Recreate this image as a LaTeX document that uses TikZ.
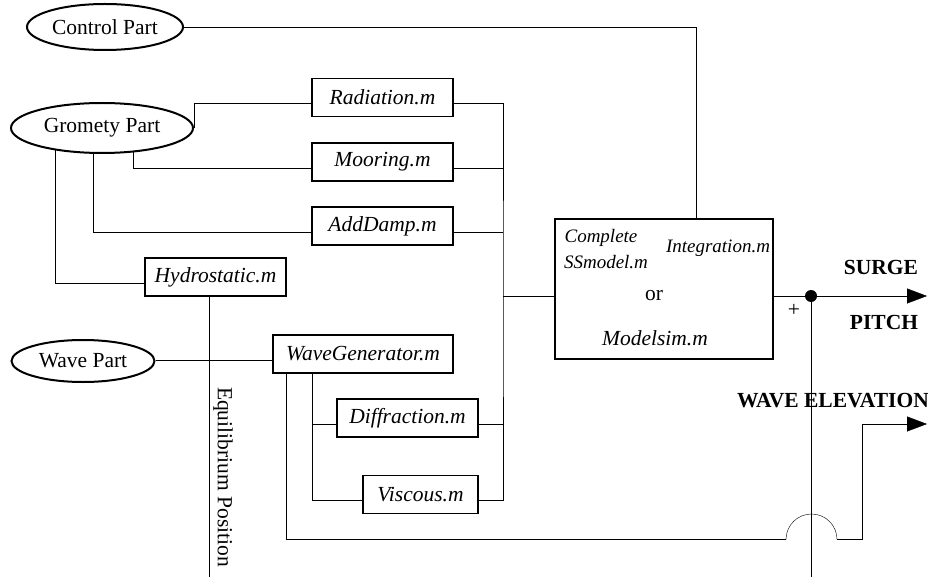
\documentclass[tikz,border=0pt]{standalone}
\usepackage{fontspec}
\setmainfont{Liberation Serif}
\usetikzlibrary{shapes.geometric,arrows.meta,backgrounds}

\tikzset{
  base/.style={font=\fontsize{21.5}{25}\selectfont},
  part/.style={base, ellipse, draw, line width=2pt, fill=white, inner sep=0pt},
  mfile/.style={base, draw, line width=1.5pt, fill=white, inner sep=0pt,
    font=\fontsize{21.5}{25}\selectfont\itshape, minimum height=38pt},
  wire/.style={line width=1.6pt, draw=black},
  headed/.style={-{Triangle[length=20pt,width=15pt]}},
  outlabel/.style={font=\fontsize{21.5}{25}\selectfont\bfseries, inner sep=0pt},
  boxtext/.style={font=\fontsize{19}{22}\selectfont\itshape, inner sep=0pt},
  jdot/.style={circle, fill=black, inner sep=0pt, minimum size=12pt},
}

\begin{document}
\begin{tikzpicture}[x=1pt,y=-1pt]
  \useasboundingbox (0,0) rectangle (928,577);

  % input parts
  \node[part, minimum width=156pt, minimum height=46pt] (ctrl) at (105,27) {Control Part};
  \node[part, minimum width=182pt, minimum height=50pt] (geo) at (102,128) {Gromety Part};
  \node[part, minimum width=143pt, minimum height=42pt] (wave) at (83,361) {Wave Part};

  % m-file blocks
  \node[mfile, minimum width=141pt] (rad) at (382.5,97.5) {Radiation.m};
  \node[mfile, minimum width=141pt] (moor) at (382.5,162) {Mooring.m};
  \node[mfile, minimum width=141pt] (adamp) at (382.5,226) {AddDamp.m};
  \node[mfile, minimum width=141pt] (hydro) at (215.5,277) {Hydrostatic.m};
  \node[mfile, minimum width=180pt] (wgen) at (363,354) {WaveGenerator.m};
  \node[mfile, minimum width=141pt] (diff) at (407.5,418) {Diffraction.m};
  \node[mfile, minimum width=115pt] (visc) at (420.5,494.5) {Viscous.m};

  % main simulation block
  \node[draw, line width=1.5pt, minimum width=218pt, minimum height=140pt, inner sep=0pt] (main) at (664,289) {};
  \node[boxtext] (tcomp) at (601,238) {Complete};
  \node[boxtext] (tss) at (606,262) {SSmodel.m};
  \node[boxtext] (tint) at (718,248) {Integration.m};
  \node[base, inner sep=0pt] (tor) at (654,296) {or};
  \node[base, inner sep=0pt, font=\fontsize{21.5}{25}\selectfont\itshape] (tms) at (655,338) {Modelsim.m};

  % connection points (wires sit slightly below the block centres)
  \coordinate (radL) at ([yshift=-6pt]rad.west);
  \coordinate (radR) at ([yshift=-6pt]rad.east);
  \coordinate (moorL) at ([yshift=-6pt]moor.west);
  \coordinate (moorR) at ([yshift=-6pt]moor.east);
  \coordinate (adL) at ([yshift=-6pt]adamp.west);
  \coordinate (adR) at ([yshift=-6pt]adamp.east);
  \coordinate (hyL) at ([yshift=-6pt]hydro.west);
  \coordinate (wgL) at ([yshift=-6pt]wgen.west);
  \coordinate (dfL) at ([yshift=-6pt]diff.west);
  \coordinate (dfR) at ([yshift=-6pt]diff.east);
  \coordinate (vsL) at ([yshift=-6pt]visc.west);
  \coordinate (vsR) at ([yshift=-6pt]visc.east);
  \coordinate (bx) at (503,296);
  \node[jdot] (jn) at (811,296) {};
  \coordinate (surgeEnd) at (927,296);
  \coordinate (jnEnd) at (811,577);
  \coordinate (eqEnd) at (209.5,577);
  \coordinate (wgDown) at (286.5,539.5);
  \coordinate (hopL) at (786,539.5);
  \coordinate (hopR) at (837,539.5);
  \coordinate (weBend) at (862.5,539.5);
  \coordinate (weUp) at (862.5,424);
  \coordinate (weEnd) at (927,424);

  \begin{scope}[on background layer, wire]
    % geometry part to its blocks
    \draw (geo.east) |- (radL);
    \draw ([xshift=31pt]geo.center) |- (moorL);
    \draw ([xshift=-9pt]geo.center) |- (adL);
    \draw ([xshift=-47pt]geo.center) |- (hyL);
    % wave part
    \draw (wgL -| wave.east) -- (wgL);
    \draw ([xshift=-51pt]wgen.south) |- (dfL);
    \draw ([xshift=-51pt]wgen.south) |- (vsL);
    % collecting bus into the main block
    \draw (radR) -| (bx) |- (vsR);
    \draw (moorR) -- (moorR -| bx);
    \draw (adR) -- (adR -| bx);
    \draw (dfR) -- (dfR -| bx);
    \draw (bx) -- (bx -| main.west);
    % control part
    \draw (ctrl.east) -| ([xshift=32pt]main.north);
    % equilibrium position
    \draw (eqEnd |- hydro.south) -- (eqEnd);
    % outputs
    \draw (bx -| main.east) -- (jn);
    \draw[headed] (jn) -- (surgeEnd);
    \draw (jn) -- (jnEnd);
    % wave elevation, hopping over the output line
    \draw (wgDown |- wgen.south) -- (wgDown) -- (hopL);
    \draw (hopL) arc[start angle=180, end angle=0, radius=25.5pt];
    \draw (hopR) -- (weBend) -- (weUp);
    \draw[headed] (weUp) -- (weEnd);
  \end{scope}

  % labels
  \node[base, rotate=-90, inner sep=0pt] (eqlab) at (223,477) {Equilibrium Position};
  \node[outlabel] (surge) at (881,267) {SURGE};
  \node[outlabel] (pitch) at (884,322) {PITCH};
  \node[base, inner sep=0pt] (plus) at (794,310) {+};
  \node[outlabel, anchor=east] (welev) at (929,401) {WAVE ELEVATION};
\end{tikzpicture}
\end{document}
